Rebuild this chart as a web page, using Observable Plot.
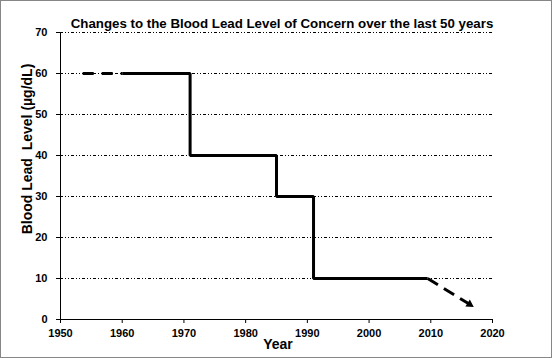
<!DOCTYPE html>
<html><head><meta charset="utf-8">
<script src="https://cdn.jsdelivr.net/npm/d3@7"></script>
<script src="https://cdn.jsdelivr.net/npm/@observablehq/plot@0.6"></script>
<style>
html,body{margin:0;padding:0;background:#fff;}
#wrap{position:relative;width:552px;height:358px;}
#border{position:absolute;left:0;top:0;width:552px;height:358px;box-sizing:border-box;border:1px solid #868686;pointer-events:none;}
svg text{white-space:pre;}
</style></head><body>
<div id="wrap"><div id="border"></div></div>
<script>
const title = "Changes to the Blood Lead Level of Concern over the last 50 years";
const xLabel = "Year";
const yLabel = "Blood Lead  Level (µg/dL)";
const xTicks = [1950, 1960, 1970, 1980, 1990, 2000, 2010, 2020];
const yTicks = [0, 10, 20, 30, 40, 50, 60, 70];
const gridLevels = [10, 20, 30, 40, 50, 60, 70];
const earlyYears = [1953.6, 1960];
const earlyLevels = [60, 60];
const stepYears = [1960, 1971, 1985, 1991, 2009.5];
const stepLevels = [60, 40, 30, 10, 10];
const projYears = [2009.5, 2016.3];
const projLevels = [10, 3.7];

const early = earlyYears.map((x, i) => ({x, y: earlyLevels[i]}));
const steps = stepYears.map((x, i) => ({x, y: stepLevels[i]}));
const proj = projYears.map((x, i) => ({x, y: projLevels[i]}));
const tip = [proj[proj.length - 1]];

const chart = Plot.plot({
  width: 552, height: 358,
  marginLeft: 60, marginRight: 60, marginTop: 32, marginBottom: 39,
  style: {fontFamily: "'Liberation Sans', Arial, sans-serif", fontWeight: "bold", fontSize: "11px", color: "#000", background: "transparent"},
  x: {domain: [1950, 2020], ticks: xTicks, tickSize: 4, tickPadding: 6, label: null, tickFormat: d => String(d)},
  y: {domain: [0, 70], ticks: yTicks, tickSize: 4, tickPadding: 9, label: null, tickFormat: d => String(d)},
  marks: [
    Plot.ruleY(gridLevels, {stroke: "#000", strokeWidth: 1, strokeDasharray: "3,2,1,2,1,2"}),
    Plot.ruleX([1950], {stroke: "#000"}),
    Plot.ruleY([0], {stroke: "#000"}),
    Plot.line(early, {x: "x", y: "y", stroke: "#000", strokeWidth: 3, strokeDasharray: "11,8", strokeLinecap: "butt"}),
    Plot.line(steps, {x: "x", y: "y", curve: "step-after", stroke: "#000", strokeWidth: 3, strokeLinecap: "butt", strokeLinejoin: "miter"}),
    Plot.line(proj, {x: "x", y: "y", stroke: "#000", strokeWidth: 3, strokeDasharray: "12,7", strokeLinecap: "butt"}),
    Plot.dot(tip, {x: "x", y: "y", symbol: "triangle2", r: 4, fill: "#000", stroke: "none", rotate: 122}),
    Plot.text([title], {text: d => d, frameAnchor: "top", textAnchor: "middle", dx: 5.5, dy: -14, fontSize: 13.3, fontWeight: "bold"}),
    Plot.text([xLabel], {text: d => d, frameAnchor: "bottom", textAnchor: "middle", dx: 1.5, dy: 29, fontSize: 14, fontWeight: "bold"}),
    Plot.text([yLabel], {text: d => d, frameAnchor: "left", textAnchor: "middle", dx: -33, dy: -27, rotate: -90, fontSize: 14, fontWeight: "bold"})
  ]
});
document.getElementById("wrap").insertBefore(chart, document.getElementById("border"));
</script>
</body></html>
